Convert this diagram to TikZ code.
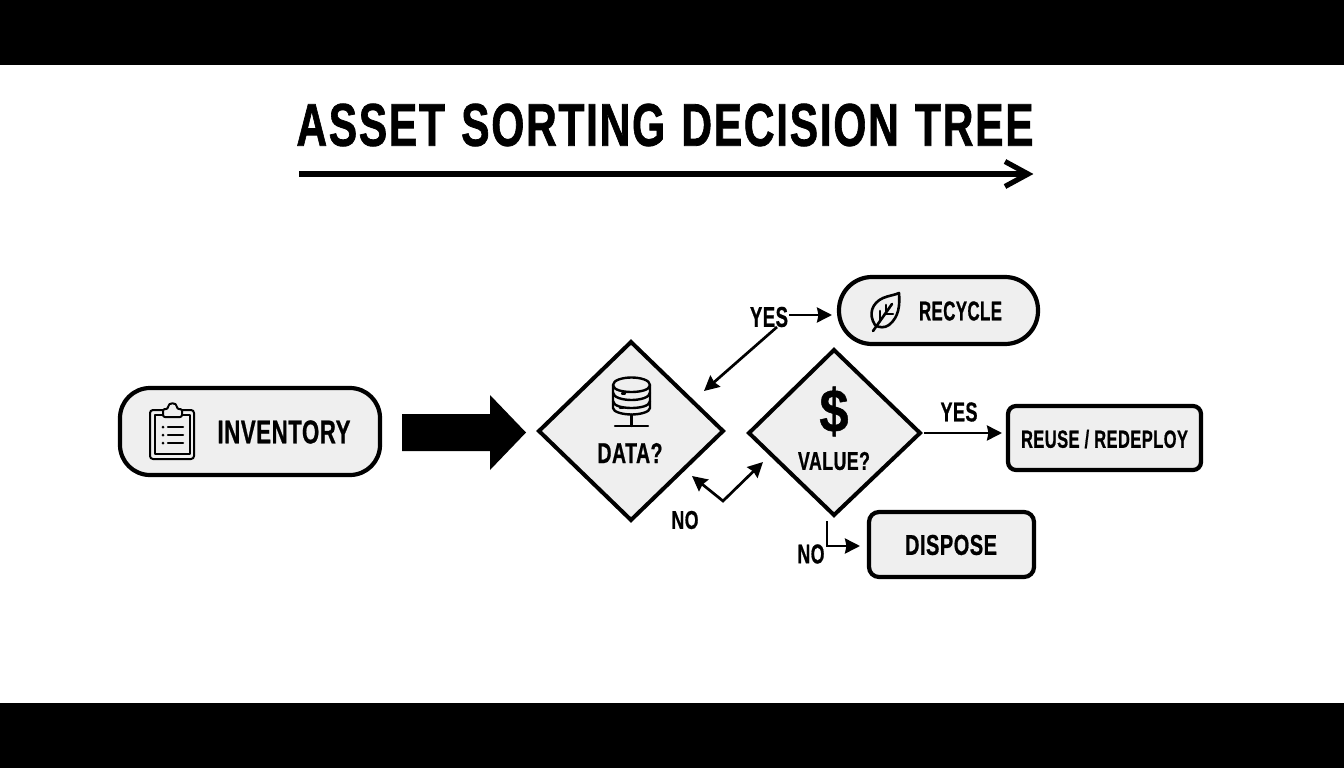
\documentclass[tikz,border=0pt]{standalone}
\usepackage{fontspec}
\usepackage{graphicx}
\setmainfont{Liberation Sans}
\usetikzlibrary{shapes.geometric,arrows.meta}
\newfontfamily\labfont[FakeBold=0.9,LetterSpace=2.5]{Liberation Sans Bold}
\newfontfamily\titlefont[FakeBold=1.4,LetterSpace=4,WordSpace=1.2]{Liberation Sans Bold}
\newcommand{\fitlab}[3]{\resizebox{#1pt}{#2pt}{\labfont #3}}
\newcommand{\fittitle}[3]{\resizebox{#1pt}{#2pt}{\titlefont #3}}
\definecolor{boxfill}{HTML}{EFEFEF}
\tikzset{
  every node/.style={inner sep=0pt,outer sep=0pt},
  boxbase/.style={draw=black,fill=boxfill,line width=4.2pt,minimum height=#1pt},
  decision/.style={draw=black,fill=boxfill,line width=4pt,line join=miter},
  link/.style={draw=black,line width=2.7pt,-{Stealth[length=15pt,width=15pt,inset=1.5pt]}},
  linkboth/.style={draw=black,line width=2.7pt,{Stealth[length=15pt,width=15pt,inset=1.5pt]}-{Stealth[length=15pt,width=15pt,inset=1.5pt]}},
  icon/.style={draw=black,line width=2.4pt,line cap=round,line join=round},
}
\begin{document}
\begin{tikzpicture}[x=1pt,y=-1pt]
\useasboundingbox (0,0) rectangle (1344,768);
\fill[white] (0,0) rectangle (1344,768);
\fill[black] (0,0) rectangle (1344,65);
\fill[black] (0,703) rectangle (1344,768);

% title
\node (title) at (665,125) {\fittitle{737}{42}{ASSET SORTING DECISION TREE}};
\coordinate (tl) at (299,174);
\coordinate (tr) at (1028,174);
\draw[line width=5.6pt] (tl) -- (tr);
\draw[line width=5.2pt,line cap=butt,line join=miter] (1005,161.5) -- (tr) -- (1005,186.5);

% process boxes
\node[boxbase=87,minimum width=260pt,rounded corners=30pt] (inv) at (250,431.5) {};
\node[boxbase=67,minimum width=199pt,rounded corners=33pt] (rec) at (938.5,310.5) {};
\node[boxbase=64,minimum width=193pt,rounded corners=8pt] (reu) at (1104.5,438) {};
\node[boxbase=65,minimum width=165pt,rounded corners=10pt] (dis) at (951.5,544.5) {};
\node (invt) at (284,432) {\fitlab{133}{23}{INVENTORY}};
\node (rect) at (960.5,311) {\fitlab{83}{19}{RECYCLE}};
\node (reut) at (1104.5,439) {\fitlab{167}{18}{REUSE / REDEPLOY}};
\node (dist) at (951,545) {\fitlab{92}{20}{DISPOSE}};

% decisions
\coordinate (dt) at (631,342); \coordinate (dr) at (723,431);
\coordinate (db) at (631,520); \coordinate (dl) at (539,431);
\draw[decision] (dt) -- (dr) -- (db) -- (dl) -- cycle;
\coordinate (vt) at (834,350); \coordinate (vr) at (920,433);
\coordinate (vb) at (834,515); \coordinate (vl) at (749,433);
\draw[decision] (vt) -- (vr) -- (vb) -- (vl) -- cycle;
\node (datat) at (630,453) {\fitlab{65}{20}{DATA?}};
\node (valt) at (834,461) {\fitlab{72}{18}{VALUE?}};
\node (dollar) at (834,411.5) {\fitlab{29}{45}{\$}};

% big arrow
\fill[black] (402,414) -- (490,414) -- (490,395) -- (526,432.5) -- (490,470) -- (490,451) -- (402,451) -- cycle;

% labels
\node (yes1) at (769,317) {\fitlab{38}{20}{YES}};
\node (yes2) at (959,412) {\fitlab{37}{19}{YES}};
\node (no1) at (685,520) {\fitlab{27}{18}{NO}};
\node (no2) at (811,554) {\fitlab{27}{19}{NO}};

% connectors
\coordinate (ys) at (789,315);
\draw[link,shorten >=7pt] (ys) -- (ys -| rec.west);
\coordinate (ya) at (777,327);
\coordinate (yb) at (704,391);
\draw[link] (ya) -- (yb);
\coordinate (na) at (692,476);
\coordinate (nc) at (723,501);
\coordinate (nb) at (763,462);
\draw[linkboth,line join=miter] (na) -- (nc) -- (nb);
\draw[link,shorten <=4pt,shorten >=6pt] (vr) -- (vr -| reu.west);
\coordinate (va) at (827,521);
\coordinate (vc) at (827,546);
\coordinate (vd) at (860,546);
\draw[link,line join=miter] (va) -- (vc) -- (vd);

% database icon
\begin{scope}[icon]
  \draw[fill=boxfill] (613,385) .. controls (613,380) and (623,377.5) .. (631.5,377.5) .. controls (640,377.5) and (650,380) .. (650,385) -- (650,408) .. controls (650,412) and (640,414.5) .. (631.5,414.5) .. controls (623,414.5) and (613,412) .. (613,408) -- cycle;
  \draw (613,385) .. controls (613,390) and (623,392) .. (631.5,392) .. controls (640,392) and (650,390) .. (650,385);
  \draw (613,392.5) .. controls (613,397.5) and (623,400) .. (631.5,400) .. controls (640,400) and (650,397.5) .. (650,392.5);
  \draw (613,401) .. controls (613,406) and (623,408) .. (631.5,408) .. controls (640,408) and (650,406) .. (650,401);
  \draw (622,393.5) -- (625,393.5) (620,408) -- (623,408);
  \draw (631.5,414.5) -- (631.5,426) (615,426) -- (648,426);
\end{scope}

% clipboard icon
\begin{scope}[icon,line width=2pt]
  \draw[rounded corners=3pt] (150,410) rectangle (194,459);
  \draw (154.5,415) rectangle (190,454);
  \draw[fill=boxfill,rounded corners=2pt] (163,417) -- (163,409) -- (168,409) .. controls (168,402) and (177,402) .. (177,409) -- (182,409) -- (182,417) -- cycle;
  \fill (163,427) circle (1.5pt) (163,435) circle (1.5pt) (163,443) circle (1.5pt);
  \draw[line width=2.5pt] (168,427) -- (183,427) (168,435) -- (183,435) (168,443) -- (183,443);
\end{scope}

% leaf icon
\begin{scope}[icon,line width=2.6pt]
  \draw (875,325) .. controls (868,314) and (872,303) .. (883,298) .. controls (889,295.5) and (895,295) .. (899,293) .. controls (900,305) and (899,317) .. (889,325) .. controls (885,328) and (879,328) .. (875,325) -- cycle;
  \draw (873,331) -- (892,304);
  \draw (880,321) -- (880,311) (885,314) -- (893,314) (886,311) -- (886,305);
\end{scope}
\end{tikzpicture}
\end{document}
